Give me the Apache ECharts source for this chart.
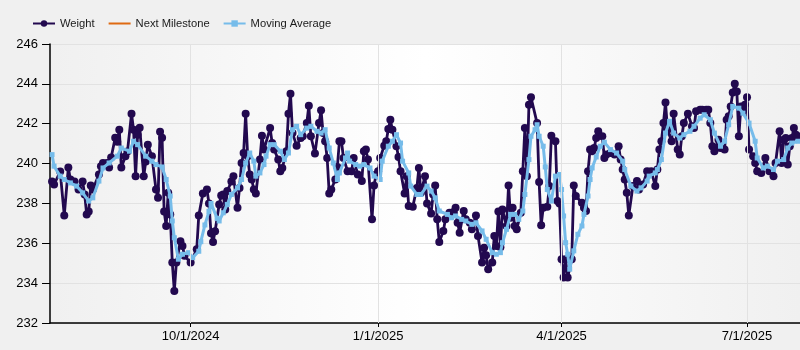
<!DOCTYPE html>
<html>
<head>
<meta charset="utf-8">
<script src="https://cdn.jsdelivr.net/npm/echarts@6/dist/echarts.min.js"></script>
<style>
html,body{margin:0;padding:0;background:#F0F0F0;}
#c{width:800px;height:350px;}
</style>
</head>
<body>
<div id="c"></div>
<script>
const weightDates = [
'2024-07-25','2024-07-26','2024-07-29','2024-07-31',
'2024-08-02','2024-08-03','2024-08-05','2024-08-07','2024-08-09','2024-08-10','2024-08-11','2024-08-12','2024-08-13','2024-08-14','2024-08-17','2024-08-18','2024-08-19','2024-08-21','2024-08-22','2024-08-23','2024-08-25','2024-08-26','2024-08-27','2024-08-28','2024-08-30','2024-08-31',
'2024-09-02','2024-09-03','2024-09-04','2024-09-05','2024-09-06','2024-09-08','2024-09-09','2024-09-10','2024-09-12','2024-09-14','2024-09-15','2024-09-16','2024-09-17','2024-09-18','2024-09-19','2024-09-20','2024-09-21','2024-09-22','2024-09-23','2024-09-24','2024-09-26','2024-09-27','2024-09-28',
'2024-10-01','2024-10-04','2024-10-05','2024-10-07','2024-10-09','2024-10-10','2024-10-11','2024-10-12','2024-10-13','2024-10-15','2024-10-16','2024-10-17','2024-10-18','2024-10-19','2024-10-21','2024-10-22','2024-10-24','2024-10-25','2024-10-26','2024-10-27','2024-10-28','2024-10-29','2024-10-30','2024-10-31',
'2024-11-01','2024-11-02','2024-11-04','2024-11-05','2024-11-06','2024-11-09','2024-11-10','2024-11-11','2024-11-13','2024-11-14','2024-11-15','2024-11-17','2024-11-18','2024-11-19','2024-11-20','2024-11-22','2024-11-24','2024-11-25','2024-11-27','2024-11-28','2024-11-29',
'2024-12-01','2024-12-03','2024-12-04','2024-12-05','2024-12-06','2024-12-07','2024-12-08','2024-12-09','2024-12-11','2024-12-12','2024-12-13','2024-12-14','2024-12-15','2024-12-17','2024-12-19','2024-12-20','2024-12-22','2024-12-24','2024-12-25','2024-12-26','2024-12-27','2024-12-29','2024-12-30','2024-12-31',
'2025-01-01','2025-01-02','2025-01-04','2025-01-05','2025-01-06','2025-01-07','2025-01-08','2025-01-10','2025-01-11','2025-01-12','2025-01-14','2025-01-15','2025-01-16','2025-01-18','2025-01-20','2025-01-21','2025-01-22','2025-01-24','2025-01-25','2025-01-27','2025-01-28','2025-01-29','2025-01-30','2025-01-31',
'2025-02-02','2025-02-03','2025-02-05','2025-02-07','2025-02-08','2025-02-09','2025-02-10','2025-02-12','2025-02-13','2025-02-15','2025-02-16','2025-02-18','2025-02-19','2025-02-21','2025-02-22','2025-02-23','2025-02-24','2025-02-26','2025-02-27','2025-02-28',
'2025-03-01','2025-03-02','2025-03-03','2025-03-05','2025-03-06','2025-03-07','2025-03-08','2025-03-09','2025-03-10','2025-03-12','2025-03-13','2025-03-14','2025-03-15','2025-03-16','2025-03-17','2025-03-20','2025-03-21','2025-03-22','2025-03-23','2025-03-25','2025-03-26','2025-03-27','2025-03-29','2025-03-30','2025-03-31',
'2025-04-01','2025-04-02','2025-04-03','2025-04-04','2025-04-06','2025-04-07','2025-04-08','2025-04-11','2025-04-12','2025-04-13','2025-04-14','2025-04-15','2025-04-16','2025-04-17','2025-04-18','2025-04-19','2025-04-21','2025-04-22','2025-04-23','2025-04-25','2025-04-27','2025-04-29','2025-04-30',
'2025-05-01','2025-05-02','2025-05-03','2025-05-04','2025-05-06','2025-05-08','2025-05-09','2025-05-11','2025-05-13','2025-05-15','2025-05-17','2025-05-18','2025-05-19','2025-05-20','2025-05-21','2025-05-22','2025-05-23','2025-05-25','2025-05-26','2025-05-28','2025-05-29','2025-05-30','2025-05-31',
'2025-06-02','2025-06-04','2025-06-05','2025-06-06','2025-06-08','2025-06-09','2025-06-11','2025-06-12','2025-06-13','2025-06-14','2025-06-15','2025-06-17','2025-06-18','2025-06-20','2025-06-21','2025-06-22','2025-06-23','2025-06-24','2025-06-25','2025-06-26','2025-06-27','2025-06-28','2025-06-29','2025-06-30',
'2025-07-01','2025-07-02','2025-07-04','2025-07-05','2025-07-06','2025-07-08','2025-07-10','2025-07-12','2025-07-14','2025-07-15','2025-07-17','2025-07-18','2025-07-19','2025-07-20','2025-07-21','2025-07-22','2025-07-23','2025-07-24','2025-07-25','2025-07-26'
];
const weightValues = [
239.1,238.95,239.6,237.4,
239.8,239.2,239.1,238.7,239.1,238.45,237.45,237.6,238.9,238.7,239.45,239.87,240.03,240.03,239.8,240.3,241.3,241.1,241.7,239.8,240.37,240.6,
242.5,241.7,239.37,241.45,241.8,239.37,240.1,240.95,240.37,238.7,238.28,241.6,241.3,237.6,236.87,238.53,237.45,235.03,233.6,235.03,236.1,235.87,235.37,
235.03,235.7,237.4,238.5,238.7,238.0,236.5,236.07,236.6,237.95,238.4,238.45,237.7,238.62,239.1,239.37,237.78,238.78,240.03,240.53,242.5,240.37,239.45,239.2,
238.7,238.5,240.2,241.4,240.7,241.78,241.03,240.7,240.2,239.62,239.78,240.62,242.5,243.5,241.53,240.9,241.28,241.37,242.03,242.9,241.37,
240.5,242.03,242.67,241.53,241.12,240.28,238.5,238.7,239.2,239.83,241.12,241.12,240.28,239.62,239.62,240.28,239.45,239.12,240.62,240.7,240.2,237.2,238.9,239.45,
239.62,240.28,240.9,241.12,241.73,242.2,241.7,240.87,240.33,239.62,238.5,239.37,237.87,237.83,238.78,239.78,238.53,239.37,238.0,237.5,238.45,238.9,237.2,236.07,
236.62,237.2,237.53,237.57,237.78,237.03,236.53,237.62,237.2,237.03,236.7,237.4,236.37,235.03,235.78,235.4,234.7,235.03,236.37,235.87,
237.6,235.8,237.7,236.87,238.9,237.28,237.78,236.87,236.7,237.53,239.62,241.78,239.37,242.95,243.33,242.03,239.07,236.9,237.78,237.83,238.87,241.4,241.12,238.12,238.0,
235.2,234.28,235.2,234.28,235.2,238.9,238.37,238.03,237.78,237.62,239.62,240.7,240.62,240.78,241.28,241.62,241.37,240.28,240.45,240.53,240.45,240.87,240.2,
239.7,239.2,238.53,237.4,238.87,239.12,238.7,238.95,239.62,239.62,238.87,239.7,240.7,241.12,242.03,243.07,241.7,241.12,242.5,240.7,240.45,241.37,242.03,
242.5,241.87,241.78,242.62,242.7,242.7,242.7,242.7,242.03,240.87,240.62,241.2,240.78,240.7,242.2,242.37,242.87,243.57,244.0,243.62,241.37,242.87,242.62,242.95,
243.33,240.7,240.37,240.03,239.62,239.53,240.28,239.62,239.37,240.03,241.62,240.03,241.2,241.28,239.95,240.87,241.28,241.78,241.45,241.37
];
const maDates = [
'2024-07-25','2024-07-26','2024-07-29','2024-07-31','2024-08-03','2024-08-06','2024-08-09','2024-08-12','2024-08-14','2024-08-17','2024-08-19','2024-08-22','2024-08-26','2024-08-28',
'2024-09-01','2024-09-03','2024-09-05','2024-09-09','2024-09-12','2024-09-14','2024-09-17','2024-09-19','2024-09-21','2024-09-22','2024-09-23','2024-09-25','2024-09-27','2024-09-30',
'2024-10-02','2024-10-05','2024-10-06','2024-10-08','2024-10-10','2024-10-11','2024-10-14','2024-10-15','2024-10-17','2024-10-19','2024-10-21','2024-10-24','2024-10-26','2024-10-28','2024-10-30',
'2024-11-01','2024-11-02','2024-11-04','2024-11-06','2024-11-07','2024-11-09','2024-11-11','2024-11-14','2024-11-16','2024-11-18','2024-11-20','2024-11-22','2024-11-24','2024-11-27','2024-11-29',
'2024-12-02','2024-12-04','2024-12-06','2024-12-08','2024-12-10','2024-12-12','2024-12-13','2024-12-16','2024-12-17','2024-12-18','2024-12-21','2024-12-23','2024-12-25','2024-12-28','2024-12-30',
'2025-01-02','2025-01-03','2025-01-06','2025-01-08','2025-01-10','2025-01-12','2025-01-13','2025-01-16','2025-01-17','2025-01-20','2025-01-22','2025-01-25','2025-01-27','2025-01-29','2025-01-31',
'2025-02-04','2025-02-06','2025-02-08','2025-02-11','2025-02-13','2025-02-16','2025-02-18','2025-02-21','2025-02-23','2025-02-26','2025-02-28',
'2025-03-02','2025-03-03','2025-03-05','2025-03-07','2025-03-09','2025-03-11','2025-03-13','2025-03-14','2025-03-16','2025-03-17','2025-03-19','2025-03-20','2025-03-21','2025-03-23','2025-03-24','2025-03-25','2025-03-27','2025-03-29','2025-03-31',
'2025-04-01','2025-04-02','2025-04-03','2025-04-04','2025-04-05','2025-04-07','2025-04-09','2025-04-11','2025-04-12','2025-04-14','2025-04-15','2025-04-16','2025-04-18','2025-04-20','2025-04-22','2025-04-25','2025-04-28',
'2025-05-01','2025-05-02','2025-05-05','2025-05-08','2025-05-10','2025-05-13','2025-05-14','2025-05-17','2025-05-18','2025-05-20','2025-05-22','2025-05-24','2025-05-26','2025-05-29','2025-05-31',
'2025-06-03','2025-06-05','2025-06-08','2025-06-10','2025-06-13','2025-06-15','2025-06-18','2025-06-20','2025-06-22','2025-06-24','2025-06-27','2025-06-29',
'2025-07-02','2025-07-05','2025-07-06','2025-07-09','2025-07-11','2025-07-14','2025-07-16','2025-07-19','2025-07-21','2025-07-23','2025-07-26'
];
const maValues = [
240.45,239.87,239.37,239.2,239.03,238.87,238.53,238.12,238.28,239.12,239.78,240.03,240.37,240.78,
240.62,241.12,240.95,240.37,240.12,239.95,239.83,239.2,238.37,237.12,236.28,235.2,235.45,235.53,
235.28,235.6,236.08,236.92,237.6,238.0,237.25,237.12,237.53,237.95,238.45,238.78,239.2,240.03,240.53,
240.12,239.37,239.53,239.95,240.37,240.95,240.95,240.62,240.2,240.53,241.7,241.87,241.45,241.78,241.87,
241.62,241.53,241.7,240.78,240.03,239.2,239.53,240.28,240.53,240.12,239.95,239.87,239.95,239.78,239.37,
239.2,240.12,240.87,241.12,241.45,241.03,240.12,239.53,238.87,238.45,238.45,238.87,238.62,238.28,237.62,
237.45,237.28,237.37,237.2,237.12,236.95,237.03,236.62,236.2,235.53,235.45,
235.53,236.03,236.7,237.45,237.45,237.2,237.62,238.45,240.2,241.37,241.7,241.95,241.37,240.87,239.83,238.7,238.12,239.37,239.45,
238.7,237.37,236.03,235.45,234.7,235.62,236.45,236.87,237.45,238.37,239.2,239.78,240.33,240.87,241.07,240.7,240.53,
240.12,239.7,238.87,238.62,238.78,239.12,239.37,239.53,239.7,240.2,241.53,242.12,241.53,241.28,241.45,
241.62,241.87,242.28,242.45,242.2,241.53,240.87,241.12,241.95,242.87,242.78,242.53,
242.03,241.12,240.28,239.78,239.87,239.7,240.12,240.2,240.78,241.03,241.12
];
const milestoneDates = [];
const milestoneValues = [];
const xLabelDates = ['2024-10-01','2025-01-01','2025-04-01','2025-07-01'];

const toTs = s => { const p=s.split('-').map(Number); return new Date(p[0],p[1]-1,p[2]).getTime(); };
const zip = (a,b)=>a.map((d,i)=>[toTs(d),b[i]]);
const xTickTs = xLabelDates.map(toTs);

const chart = echarts.init(document.getElementById('c'), null, {renderer:'canvas'});
const font = 'Liberation Sans, Arial, sans-serif';
chart.setOption({
  animation:false,
  backgroundColor:'#F0F0F0',
  textStyle:{fontFamily:font},
  legend:{
    left:27, top:13, itemGap:13, itemWidth:22, itemHeight:8,
    textStyle:{fontSize:11.2, color:'#1a1a1a', fontFamily:font},
    data:['Weight',{name:'Next Milestone',itemStyle:{opacity:0}},'Moving Average']
  },
  grid:{
    left:50, right:0, top:44, bottom:27, show:true, borderWidth:0,
    backgroundColor:new echarts.graphic.LinearGradient(0,0,1,0,[
      {offset:0,color:'#F0F0F0'},{offset:0.5,color:'#FFFFFF'},{offset:1,color:'#F0F0F0'}
    ])
  },
  xAxis:{
    type:'value',
    min:toTs('2024-07-24'), max:toTs('2025-07-27'),
    axisLine:{show:true,lineStyle:{color:'#000',width:1.5}},
    axisTick:{show:true,length:4,lineStyle:{color:'#000'},customValues:xTickTs},
    axisLabel:{
      customValues:xTickTs, color:'#000', fontSize:13, fontFamily:font, margin:7,
      formatter:v=>{const d=new Date(v);return (d.getMonth()+1)+'/'+d.getDate()+'/'+d.getFullYear();}
    },
    splitLine:{show:false}
  },
  yAxis:{
    type:'value', min:232, max:246, interval:2,
    axisLine:{show:true,lineStyle:{color:'#000',width:1.5}},
    axisTick:{show:true,length:8,lineStyle:{color:'#000'}},
    axisLabel:{color:'#000',fontSize:13,fontFamily:font,margin:12},
    splitLine:{show:true,lineStyle:{color:'#E2E2E2',width:1}}
  },
  series:[
    {
      name:'Weight', type:'line', data:zip(weightDates,weightValues),
      color:'#22094F', symbol:'circle', symbolSize:8, showAllSymbol:true,
      lineStyle:{width:2.8,color:'#22094F'}, itemStyle:{color:'#22094F'}, z:2,
      markLine:{
        silent:true, symbol:'none', label:{show:false},
        lineStyle:{color:'#E2E2E2',width:1,type:'solid'},
        data:xTickTs.map(t=>({xAxis:t}))
      }
    },
    {
      name:'Next Milestone', type:'line', data:zip(milestoneDates,milestoneValues),
      color:'#DF6A12', symbol:'none', showSymbol:false, lineStyle:{width:3,color:'#DF6A12'}, z:3
    },
    {
      name:'Moving Average', type:'line', data:zip(maDates,maValues),
      color:'#76BCEA', symbol:'rect', symbolSize:5, showAllSymbol:true,
      lineStyle:{width:3,color:'#76BCEA'}, itemStyle:{color:'#76BCEA'}, z:4
    }
  ]
});
</script>
</body>
</html>
